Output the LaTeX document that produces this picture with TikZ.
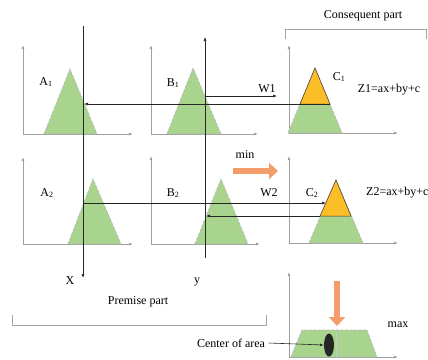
\documentclass[tikz,border=0pt]{standalone}
\usepackage{fontspec}
\setmainfont{Liberation Serif}
\usetikzlibrary{arrows.meta,positioning,calc,shapes.geometric}
\definecolor{mfgreen}{RGB}{169,212,142}
\definecolor{cutorange}{RGB}{252,190,40}
\definecolor{bigarrow}{RGB}{244,156,106}

\begin{document}
\begin{tikzpicture}[
  x=1pt,y=-1pt,
  font=\fontsize{12}{14}\selectfont,
  >={Latex[length=4pt,width=3pt]},
  axis/.style={draw=gray!75,line width=0.8pt,<->},
  memb/.style={fill=mfgreen,draw=gray!55,dash pattern=on 3pt off 1.5pt,line width=0.7pt},
  cut/.style={fill=cutorange,draw=black!80,line width=0.5pt},
  proj/.style={draw=black!85,line width=0.6pt,->},
  fat/.style={draw=bigarrow,line width=6pt,-{Triangle[length=9pt,width=16pt]}},
  bracket/.style={draw=gray!70,line width=0.8pt}
]
\useasboundingbox (0,0) rectangle (428,359);

% axes of the seven panels
\draw[axis] (23,45) |- (133,134);
\draw[axis] (151,45) |- (258,134);
\draw[axis] (289,45) |- (398,133);
\draw[axis] (23,157) |- (133,244);
\draw[axis] (151,156) |- (260,244);
\draw[axis] (289,156) |- (398,243);
\draw[axis] (289,272) |- (398,357);

% membership functions
\draw[memb] (44,134) -- (70,69) -- (97,134) -- cycle;
\draw[memb] (167,134) -- (193,68) -- (221,134) -- cycle;
\draw[memb] (288,133) -- (315,68) -- (342,133) -- cycle;
\draw[cut] (300,104) -- (315,68) -- (330,104) -- cycle;
\draw[memb] (68,244) -- (93,179) -- (121,244) -- cycle;
\draw[memb] (195,244) -- (221,179) -- (248,244) -- cycle;
\draw[memb] (309,243) -- (336,180) -- (363,243) -- cycle;
\draw[cut] (320,216) -- (336,180) -- (351,216) -- cycle;
\draw[memb] (291,357) -- (302,330) -- (367,330) -- (377,357) -- cycle;
\draw[gray!45,line width=0.4pt] (336,331) -- (336,357);

% inputs and firing levels
\coordinate (xtop) at (83,26);
\coordinate (xbot) at (83,278);
\coordinate (ytop) at (205,37);
\coordinate (ybot) at (205,258);
\coordinate (a1hit) at (84,104);
\coordinate (b1hit) at (205,96);
\coordinate (w1end) at (277,96);
\coordinate (c1cut) at (330,104);
\coordinate (a2hit) at (83,203);
\coordinate (c2edge) at (326,203);
\coordinate (b2hit) at (206,216);
\coordinate (c2cut) at (320,216);

\draw[proj] (xtop) -- (xbot);
\draw[proj] (ybot) -- (ytop);
\draw[proj] (b1hit) -- (w1end);
\draw[proj] (c1cut) -- (a1hit);
\draw[proj] (a2hit) -- (c2edge);
\draw[proj] (c2cut) -- (b2hit);

\node (a1) at (46,82) {A\textsubscript{1}};
\node (b1) at (173,83) {B\textsubscript{1}};
\node (c1) at (339,77) {C\textsubscript{1}};
\node (a2) at (47,193) {A\textsubscript{2}};
\node (b2) at (173,193) {B\textsubscript{2}};
\node (c2) at (312,193) {C\textsubscript{2}};
\node (w1) at (267,89) {W1};
\node (w2) at (269,193) {W2};
\node (z1) at (389,90) {Z1=ax+by+c};
\node[anchor=west,inner sep=1pt] (z2) at (365,193) {Z2=ax+by+c};
\node (xlbl) at (70,281) {X};
\node (ylbl) at (197,282) {y};

% min / max
\coordinate (minfrom) at (233,171);
\coordinate (minto) at (278,171);
\draw[fat] (minfrom) -- (minto);
\node (mintxt) at (245,155) {min};
\coordinate (maxfrom) at (337,281);
\coordinate (maxto) at (337,326);
\draw[fat] (maxfrom) -- (maxto);
\node (maxtxt) at (398,325) {max};

% defuzzified point
\node[ellipse,fill=black!85,minimum width=10pt,minimum height=23pt,inner sep=0pt] (cog) at (329,345) {};
\node (coa) at (231,343) {Center of area};
\draw[proj] (coa.east) -- (cog.west);

% part brackets
\draw[bracket] (285,39) -- (285,29) -- (426,29) -- (426,39);
\node (cons) at (363,16) {Consequent part};
\draw[bracket] (12,315) -- (12,325) -- (266,325) -- (266,315);
\node (prem) at (138,302) {Premise part};
\end{tikzpicture}
\end{document}
